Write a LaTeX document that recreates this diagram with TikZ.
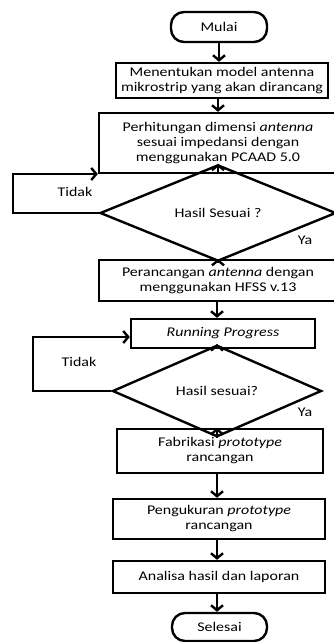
\documentclass[tikz,border=0pt]{standalone}
\usepackage{fontspec}
\setmainfont{Carlito}[FakeStretch=1.2]
\usetikzlibrary{arrows.meta,shapes.geometric}

\begin{document}
\begin{tikzpicture}[x=1pt,y=-1pt,
  txt/.style={font=\fontsize{13.3}{15}\selectfont},
  proc/.style={txt,draw,line width=2.4pt,align=center,inner sep=0pt},
  term/.style={proc,rounded corners=13pt},
  decision/.style={txt,draw,diamond,line width=2.4pt,inner sep=0pt},
  arr/.style={line width=2.4pt,-{Straight Barb[length=5pt,width=12pt]}}]

\useasboundingbox (0,0) rectangle (334,642);

% Start
\node[term,minimum width=96pt,minimum height=30pt] (mulai) at (219,27) {Mulai};

% Steps
\node[proc,minimum width=212pt,minimum height=35pt] (model) at (222,80.5)
  {Menentukan model antenna\\mikrostrip yang akan dirancang};
\node[proc,minimum width=238pt,minimum height=60pt] (hitung) at (218,143)
  {Perhitungan dimensi \textit{antenna}\\sesuai impedansi dengan\\menggunakan PCAAD 5.0};

% First check
\node[decision,minimum width=236pt,minimum height=50pt] (cek1) at (218,213) {Hasil Sesuai ?};

\node[proc,minimum width=238pt,minimum height=41pt] (rancang) at (218,280.5)
  {Perancangan \textit{antenna} dengan\\menggunakan HFSS v.13};
\node[proc,minimum width=184pt,minimum height=29pt] (run) at (223,333.5)
  {\textit{Running Progress}};

% Second check
\node[decision,minimum width=209pt,minimum height=48pt] (cek2) at (217,391) {Hasil sesuai?};

\node[proc,minimum width=206pt,minimum height=44pt] (fabrik) at (220,451)
  {Fabrikasi \textit{prototype}\\rancangan};
\node[proc,minimum width=212pt,minimum height=40pt] (ukur) at (219,519)
  {Pengukuran \textit{prototype}\\rancangan};
\node[proc,minimum width=212pt,minimum height=32pt] (analisa) at (219,577)
  {Analisa hasil dan laporan};

% End
\node[term,minimum width=95pt,minimum height=28pt] (selesai) at (219.5,627) {Selesai};

% Main flow
\draw[arr] (mulai.south) -- (mulai.south |- model.north);
\draw[arr] (model.south -| cek1) -- (hitung.north -| cek1);
\draw[arr] (hitung.south -| cek1) -- (cek1.north);
\draw[arr] (cek1.south) -- (rancang.north -| cek1);
\draw[arr] (rancang.south -| cek2) -- (run.north -| cek2);
\draw[arr] (run.south -| cek2) -- (cek2.north);
\draw[arr] (cek2.south) -- (fabrik.north -| cek2);
\draw[arr] (fabrik.south -| cek2) -- (ukur.north -| cek2);
\draw[arr] (ukur.south -| cek2) -- (analisa.north -| cek2);
\draw[arr] (analisa.south -| cek2) -- (selesai.north -| cek2);

% Loops back
\coordinate (back1) at (13,174);
\coordinate (back2) at (33,337);
\draw[arr] (cek1.west) -| (back1) -- (back1 -| hitung.west);
\draw[arr] (cek2.west) -| (back2) -- (back2 -| run.west);

% Labels
\node[txt] (tidak1) at (75,192) {Tidak};
\node[txt] (ya1) at (305,240) {Ya};
\node[txt] (tidak2) at (79,362) {Tidak};
\node[txt] (ya2) at (305,412) {Ya};

\end{tikzpicture}
\end{document}
